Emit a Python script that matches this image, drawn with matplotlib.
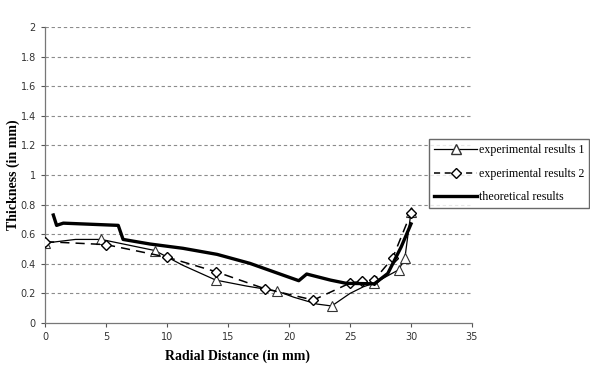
import matplotlib.pyplot as plt
from matplotlib.lines import Line2D
from matplotlib.ticker import FuncFormatter

# experimental results 1: measured points (triangles) and the smoothed trend
exp1_x = [0, 4.6, 9, 14, 19, 23.5, 27, 29, 29.5, 30]
exp1_y = [0.54, 0.565, 0.49, 0.29, 0.216, 0.115, 0.27, 0.36, 0.44, 0.75]
exp1_curve_x = [0, 2.5, 4.6, 9, 11.3, 14, 16.5, 19, 20.4, 22.3, 23.5, 25, 26.1, 27, 29, 29.5, 30]
exp1_curve_y = [0.54, 0.565, 0.565, 0.49, 0.39, 0.29, 0.25, 0.216, 0.174, 0.128, 0.115,
                0.2, 0.245, 0.27, 0.36, 0.44, 0.75]

# experimental results 2 (diamonds)
exp2_x = [0, 5, 10, 14, 18, 22, 25, 26, 27, 28.5, 30]
exp2_y = [0.55, 0.53, 0.445, 0.347, 0.232, 0.155, 0.27, 0.283, 0.292, 0.44, 0.745]

# theoretical results
theo_x = [0.68, 0.95, 1.5, 6.0, 6.4, 8.6, 11.3, 14.1, 16.8, 19.5, 20.8, 21.45,
          23.4, 24.7, 27, 28.1, 29.2, 30]
theo_y = [0.73, 0.66, 0.675, 0.66, 0.565, 0.534, 0.505, 0.464, 0.403, 0.324, 0.286,
          0.331, 0.29, 0.268, 0.265, 0.335, 0.515, 0.67]

x_ticks = [0, 5, 10, 15, 20, 25, 30, 35]
y_ticks = [0, 0.2, 0.4, 0.6, 0.8, 1.0, 1.2, 1.4, 1.6, 1.8, 2.0]

fig = plt.figure(figsize=(5.9, 3.67), dpi=100)
ax = fig.add_axes([0.0763, 0.1199, 0.7237, 0.8061])

for y in y_ticks[1:]:
    ax.axhline(y, color='#8c8c8c', lw=0.8, ls=(0, (3, 2.5)), zorder=0)

ax.plot(exp1_curve_x, exp1_curve_y, color='black', lw=0.9, zorder=2)
ax.plot(exp1_x, exp1_y, ls='none', marker='^', ms=6.5, mfc='white', mec='#333333',
        mew=0.8, zorder=3)
ax.plot(exp2_x, exp2_y, color='black', lw=1.1, ls=(0, (6, 4)), marker='D', ms=5.5,
        mfc='white', mec='black', mew=1.0, zorder=3)
ax.plot(theo_x, theo_y, color='black', lw=2.4, zorder=4)

ax.set_xlim(0, 35)
ax.set_ylim(0, 2)
ax.set_xticks(x_ticks)
ax.set_yticks(y_ticks)
ax.yaxis.set_major_formatter(FuncFormatter(lambda v, p: '%g' % v))
ax.tick_params(labelsize=7, colors='#555555', length=3, width=0.8, labelcolor='#333333')
for s in ['top', 'right']:
    ax.spines[s].set_visible(False)
for s in ['left', 'bottom']:
    ax.spines[s].set_color('#777777')
    ax.spines[s].set_linewidth(0.9)

ax.set_xlabel('Radial Distance (in mm)', family='Liberation Serif', weight='bold', fontsize=10)
ax.set_ylabel('Thickness (in mm)', family='Liberation Serif', weight='bold', fontsize=10)
ax.xaxis.set_label_coords(0.45, -0.09)
ax.yaxis.set_label_coords(-0.058, 0.5)

handles = [
    Line2D([], [], color='black', lw=0.9, marker='^', ms=6.5, mfc='white', mec='#333333'),
    Line2D([], [], color='black', lw=1.1, ls=(0, (4, 3)), marker='D', ms=5, mfc='white',
           mec='black'),
    Line2D([], [], color='black', lw=2.4),
]
labels = ['experimental results 1', 'experimental results 2', 'theoretical results']
fig.legend(handles, labels, loc='upper left', bbox_to_anchor=(429 / 590, 1 - 139 / 367),
           prop={'family': 'Liberation Serif', 'size': 8.6}, frameon=True, fancybox=False,
           edgecolor='#444444', handlelength=3.6, handletextpad=0.1, labelspacing=0.95,
           borderpad=0.45, borderaxespad=0)

fig.savefig('out.png', dpi=100)
